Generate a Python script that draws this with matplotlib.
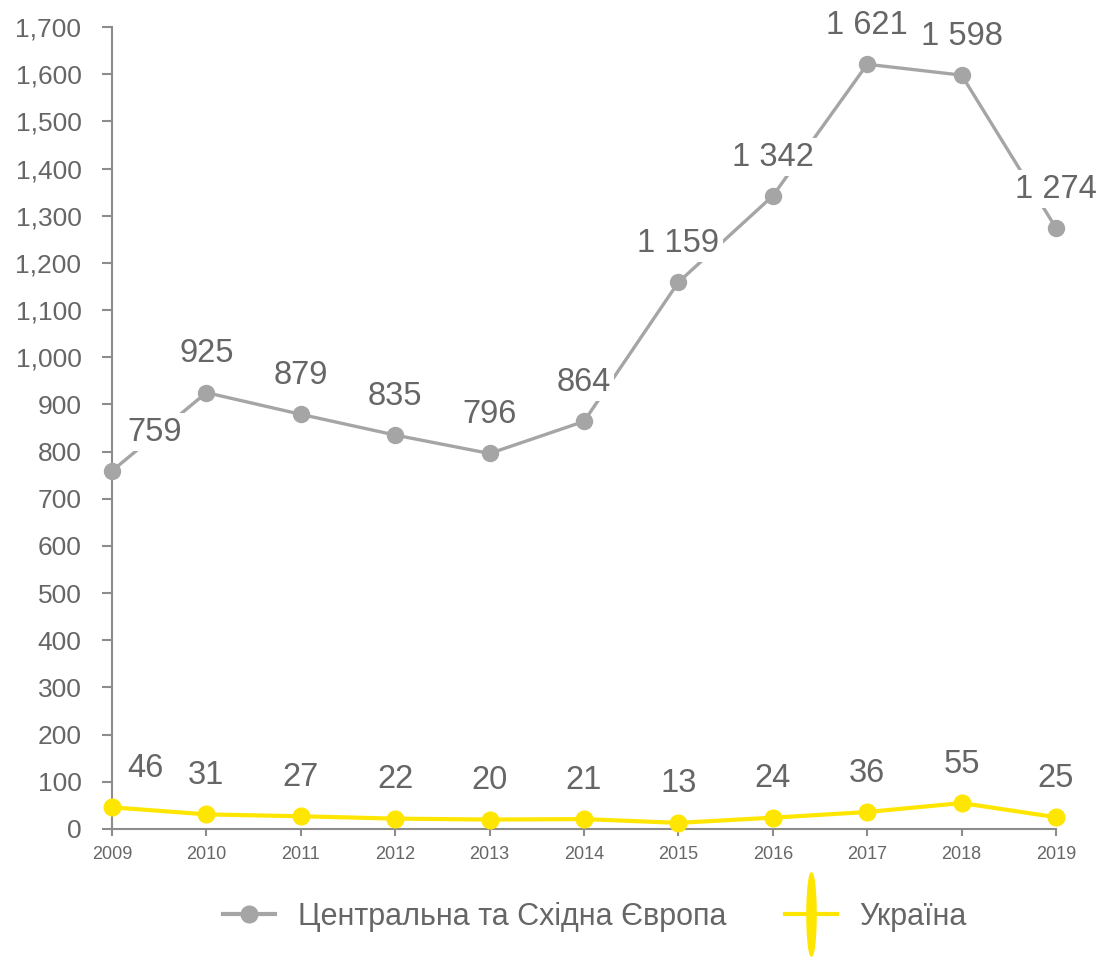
import numpy as np
import matplotlib
matplotlib.use('Agg')
import matplotlib.pyplot as plt
from matplotlib.lines import Line2D
from matplotlib.path import Path
from matplotlib.ticker import FuncFormatter

plt.rcParams['font.family'] = ['Liberation Sans', 'DejaVu Sans']

# дані
roky = [2009, 2010, 2011, 2012, 2013, 2014, 2015, 2016, 2017, 2018, 2019]
cse = [759, 925, 879, 835, 796, 864, 1159, 1342, 1621, 1598, 1274]
ukraina = [46, 31, 27, 22, 20, 21, 13, 24, 36, 55, 25]
nazvy = ['Центральна та Східна Європа', 'Україна']

siryi = '#A5A5A5'
zhovtyi = '#FFE600'
tekst = '#666666'
vis = '#8C8C8C'

fig = plt.figure(figsize=(11, 9.57), dpi=100)
ax = fig.add_axes([112/1100, 128/957, (1056-112)/1100, (829-27)/957])

ax.plot(roky, cse, color=siryi, lw=2.4, marker='o', ms=11.5, clip_on=False, zorder=3)
ax.plot(roky, ukraina, color=zhovtyi, lw=3, marker='o', ms=12, clip_on=False, zorder=3)

def fmt(v):
    return '{:,}'.format(v).replace(',', ' ')

box = dict(boxstyle='square,pad=0.1', fc='white', ec='none')
for i, (x, y) in enumerate(zip(roky, cse)):
    dx = 31 if i == 0 else 0
    ax.annotate(fmt(y), (x, y), xytext=(dx, 28), textcoords='offset points',
                ha='center', va='center', fontsize=23.5, color=tekst, bbox=box, zorder=4)
for i, (x, y) in enumerate(zip(roky, ukraina)):
    dx = 24 if i == 0 else 0
    ax.annotate(str(y), (x, y), xytext=(dx, 28), textcoords='offset points',
                ha='center', va='center', fontsize=23.5, color=tekst, zorder=4)

ax.set_xlim(2009, 2019)
ax.set_ylim(0, 1700)
ax.set_xticks(roky)
ax.set_yticks(np.arange(0, 1701, 100))
ax.yaxis.set_major_formatter(FuncFormatter(lambda v, p: '{:,}'.format(int(v))))

for s in ['top', 'right']:
    ax.spines[s].set_visible(False)
for s in ['left', 'bottom']:
    ax.spines[s].set_color(vis)
    ax.spines[s].set_linewidth(1.5)
ax.tick_params(axis='y', length=7, width=1.5, color=vis, labelsize=19, labelcolor=tekst, pad=15)
ax.tick_params(axis='x', length=5, width=1.5, color=vis, labelsize=13, labelcolor=tekst, pad=7)

# витягнутий еліпс для легенди
t = np.linspace(0, 2*np.pi, 60)
elips = Path(np.column_stack([0.11*np.cos(t), np.sin(t)]), closed=True)

h1 = Line2D([], [], color=siryi, lw=3, marker='o', ms=12)
h2 = Line2D([], [], color=zhovtyi, lw=3, marker=elips, ms=60, markeredgecolor=zhovtyi)
leg = fig.legend([h1, h2], nazvy, loc='center', bbox_to_anchor=(595/1100, 1-917/957),
                 ncol=2, frameon=False, fontsize=22, handlelength=1.7, columnspacing=1.9,
                 handletextpad=0.75, labelcolor=tekst)

fig.savefig('out.png', dpi=100, facecolor='white')
